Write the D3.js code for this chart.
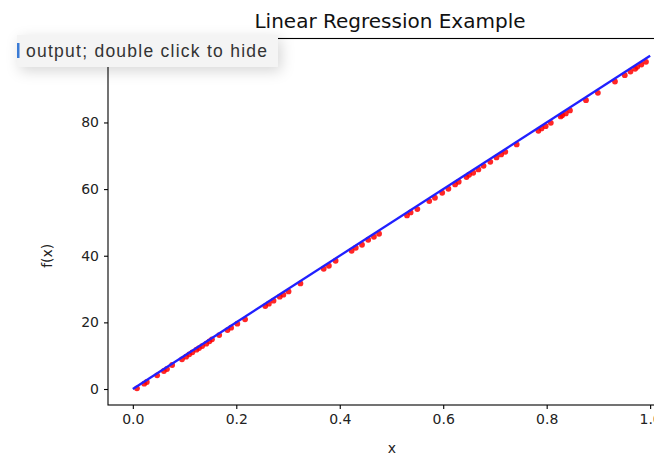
<!DOCTYPE html>
<html>
<head>
<meta charset="utf-8">
<script src="https://cdn.jsdelivr.net/npm/d3@7"></script>
<style>
  html, body { margin: 0; padding: 0; background: #fff; }
  svg { display: block; }
</style>
</head>
<body>
<svg id="chart" width="654" height="458"></svg>
<script>
// ---- data ----
const title = "Linear Regression Example";
const xLabel = "x";
const yLabel = "f(x)";
const noteText = "output; double click to hide";
const xTicks = [0.0, 0.2, 0.4, 0.6, 0.8, 1.0];
const yTicks = [0, 20, 40, 60, 80];
const pointsX = [0.008, 0.022, 0.027, 0.047, 0.060, 0.066, 0.076, 0.095, 0.103, 0.109, 0.115, 0.123, 0.128, 0.134, 0.142, 0.148, 0.153, 0.167, 0.183, 0.190, 0.202, 0.217, 0.256, 0.263, 0.272, 0.284, 0.291, 0.301, 0.324, 0.369, 0.379, 0.392, 0.423, 0.431, 0.443, 0.455, 0.466, 0.476, 0.530, 0.537, 0.550, 0.573, 0.584, 0.598, 0.610, 0.623, 0.630, 0.645, 0.650, 0.658, 0.668, 0.678, 0.691, 0.703, 0.712, 0.720, 0.742, 0.784, 0.790, 0.798, 0.808, 0.827, 0.830, 0.837, 0.845, 0.876, 0.899, 0.932, 0.951, 0.962, 0.971, 0.975, 0.983, 0.992];
const pointsY = [0.2, 1.6, 2.1, 4.1, 5.4, 6.0, 7.2, 8.9, 9.7, 10.4, 11.0, 11.8, 12.3, 12.9, 13.6, 14.3, 14.9, 16.2, 17.7, 18.4, 19.6, 20.9, 24.9, 25.6, 26.5, 27.7, 28.3, 29.3, 31.7, 36.1, 37.0, 38.5, 41.5, 42.4, 43.3, 44.8, 45.7, 46.6, 52.1, 53.0, 54.0, 56.4, 57.4, 58.9, 60.1, 61.4, 62.2, 63.6, 64.3, 64.9, 65.9, 67.0, 68.2, 69.5, 70.4, 71.2, 73.4, 77.5, 78.2, 78.9, 79.9, 81.8, 82.2, 82.7, 83.6, 86.7, 88.9, 92.3, 94.2, 95.3, 96.1, 96.7, 97.4, 98.2];
const lineX = [0.0, 1.0];
const lineY = [0.0, 100.0];

// ---- layout ----
const svg = d3.select("#chart");
const mLeft = 108, mRight = 676, mTop = 38.5, mBottom = 405;
const x = d3.scaleLinear().domain([-0.048, 1.05]).range([mLeft, mRight]);
const y = d3.scaleLinear().domain([-4.8, 105.2]).range([mBottom, mTop]);
const font = "DejaVu Sans, sans-serif";

// title
svg.append("text")
  .attr("x", (mLeft + mRight) / 2 - 2).attr("y", 28)
  .attr("text-anchor", "middle")
  .attr("font-family", font).attr("font-size", 20)
  .attr("fill", "#111")
  .text(title);

// frame (spines)
svg.append("rect")
  .attr("x", mLeft).attr("y", mTop)
  .attr("width", mRight - mLeft).attr("height", mBottom - mTop)
  .attr("fill", "none").attr("stroke", "#000").attr("stroke-width", 1.1);

// axes
const xAxis = d3.axisBottom(x).tickValues(xTicks).tickFormat(d3.format(".1f")).tickSize(4).tickPadding(5);
const yAxis = d3.axisLeft(y).tickValues(yTicks).tickFormat(d3.format("d")).tickSize(4).tickPadding(5);
const gx = svg.append("g").attr("transform", `translate(0,${mBottom})`).call(xAxis);
const gy = svg.append("g").attr("transform", `translate(${mLeft},0)`).call(yAxis);
[gx, gy].forEach(g => {
  g.select(".domain").remove();
  g.selectAll("line").attr("stroke", "#000").attr("stroke-width", 1.1);
  g.selectAll("text").attr("font-family", font).attr("font-size", 14).attr("fill", "#222");
});

// axis labels
svg.append("text")
  .attr("x", (mLeft + mRight) / 2).attr("y", 453)
  .attr("text-anchor", "middle")
  .attr("font-family", font).attr("font-size", 14).attr("fill", "#222")
  .text(xLabel);
svg.append("text")
  .attr("transform", `translate(52,${(mTop + mBottom) / 2 + 34}) rotate(-90)`)
  .attr("text-anchor", "middle")
  .attr("font-family", font).attr("font-size", 14).attr("fill", "#222")
  .text(yLabel);

// clip for plot area
svg.append("clipPath").attr("id", "plotclip")
  .append("rect").attr("x", mLeft).attr("y", mTop).attr("width", mRight - mLeft).attr("height", mBottom - mTop);
const plot = svg.append("g").attr("clip-path", "url(#plotclip)");

// scatter points
const pts = pointsX.map((d, i) => ({ x: d, y: pointsY[i] }));
plot.selectAll("circle.pt").data(pts).enter().append("circle")
  .attr("class", "pt")
  .attr("cx", d => x(d.x)).attr("cy", d => y(d.y))
  .attr("r", 2.9)
  .attr("fill", "#ff0000").attr("fill-opacity", 0.85);

// regression line
const lineData = lineX.map((d, i) => ({ x: d, y: lineY[i] }));
plot.append("path")
  .datum(lineData)
  .attr("d", d3.line().x(d => x(d.x)).y(d => y(d.y)))
  .attr("fill", "none").attr("stroke", "#2020ff").attr("stroke-width", 2.3);

// notebook "output; double click to hide" overlay
const defs = svg.append("defs");
const f = defs.append("filter").attr("id", "shadow").attr("x", "-20%").attr("y", "-60%").attr("width", "150%").attr("height", "280%");
f.append("feDropShadow").attr("dx", 3).attr("dy", 4).attr("stdDeviation", 7).attr("flood-color", "#000").attr("flood-opacity", 0.16);
const note = svg.append("g");
note.append("rect")
  .attr("x", 17).attr("y", 35).attr("width", 261).attr("height", 32)
  .attr("fill", "#f4f4f4").attr("filter", "url(#shadow)");
note.append("rect")
  .attr("x", 17).attr("y", 43).attr("width", 2.5).attr("height", 15)
  .attr("fill", "#3a7bd5");
note.append("text")
  .attr("x", 26).attr("y", 57)
  .attr("font-family", "Liberation Sans, Arial, sans-serif").attr("font-size", 17.5)
  .attr("textLength", 241).attr("lengthAdjust", "spacing")
  .attr("fill", "#333")
  .text(noteText);
</script>
</body>
</html>
